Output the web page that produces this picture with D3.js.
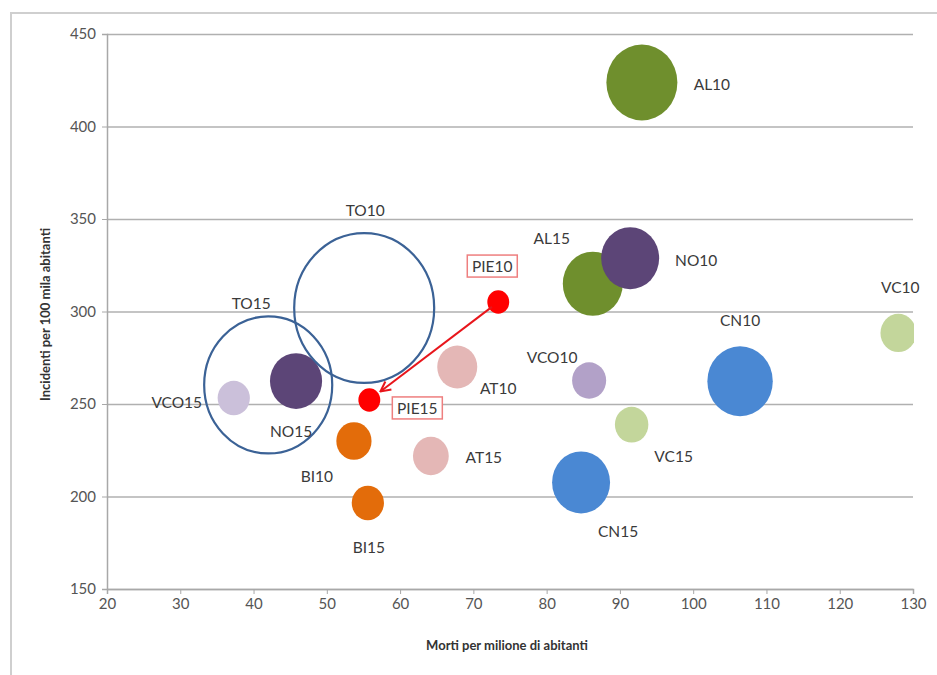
<!DOCTYPE html>
<html>
<head>
<meta charset="utf-8">
<script src="https://cdn.jsdelivr.net/npm/d3@7"></script>
<style>
    body { margin: 0; background: #fff; }
    svg { display: block; font-family: Lato, "Open Sans", sans-serif; }
</style>
</head>
<body>
<script>
// bubble names (province + year)
var names = ["AL10", "AL15", "NO10", "NO15", "TO10", "TO15", "VCO10", "VCO15", "PIE10", "PIE15",
    "AT10", "AT15", "BI10", "BI15", "VC10", "VC15", "CN10", "CN15"];
// x: morti per milione di abitanti
var deaths = [93.0, 86.3, 91.4, 45.8, 55.1, 42.0, 85.8, 37.3, 73.4, 55.8,
    67.8, 64.2, 53.7, 55.6, 128.0, 91.6, 106.4, 84.7];
// y: incidenti per 100 mila abitanti
var incidents = [423.8, 315.0, 328.8, 262.4, 301.9, 260.3, 262.7, 253.2, 305.1, 252.2,
    270.0, 221.9, 230.0, 196.5, 288.4, 238.8, 262.3, 207.6];
// bubble size
var sizes = [126, 90, 84, 68, 490, 410, 29, 26, 12, 12,
    40, 32, 31, 26, 32, 28, 107, 84];

var xTicks = [20, 30, 40, 50, 60, 70, 80, 90, 100, 110, 120, 130];
var yTicks = [150, 200, 250, 300, 350, 400, 450];

// styling per bubble, kept apart from the data
var fills = {
    AL10: "#6f8f2d", AL15: "#6f8f2d", NO10: "#5c4577", NO15: "#5c4577",
    TO10: "none", TO15: "none", VCO10: "#b2a1c8", VCO15: "#cbc0da",
    PIE10: "#ff0000", PIE15: "#ff0000", AT10: "#e4b7b6", AT15: "#e4b7b6",
    BI10: "#e36c0a", BI15: "#e36c0a", VC10: "#c3d69b", VC15: "#c3d69b",
    CN10: "#4a88d3", CN15: "#4a88d3"
};
// label offsets from bubble centre
var labelOffset = {
    AL10: [70, 2], AL15: [-41, -46], NO10: [66, 2], NO15: [-5, 50],
    TO10: [1, -98], TO15: [-17, -82], VCO10: [-37, -24], VCO15: [-57, 4],
    PIE10: [-6, -36], PIE15: [48, 8], AT10: [41, 21], AT15: [53, 1],
    BI10: [-37, 35], BI15: [1, 44], VC10: [2, -46], VC15: [42, 31],
    CN10: [0, -61], CN15: [37, 49]
};

var W = 937, H = 675;
var margin = {top: 34, right: 24, bottom: 86, left: 107};
var width = W - margin.left - margin.right;
var height = H - margin.top - margin.bottom;

var svg = d3.select("body").append("svg")
    .attr("width", W)
    .attr("height", H);

// chart area frame (runs past the picture on right and bottom)
svg.append("rect")
    .attr("x", 11).attr("y", 13)
    .attr("width", 1000).attr("height", 1000)
    .attr("fill", "none")
    .attr("stroke", "#cfcfcf")
    .attr("stroke-width", 2);

var g = svg.append("g")
    .attr("transform", "translate(" + margin.left + "," + margin.top + ")");

var x = d3.scaleLinear().domain([20, 130]).range([0, width]);
var y = d3.scaleLinear().domain([150, 450]).range([height, 0]);
var r = d3.scaleSqrt().domain([0, 500]).range([0, Math.sqrt(5000)]);

// gridlines
g.append("g")
    .attr("class", "grid")
    .call(d3.axisLeft(y).tickValues(yTicks).tickSize(-width).tickFormat(""))
    .call(function (s) {
        s.select(".domain").remove();
        s.selectAll("line").attr("stroke", "#b0b0b0").attr("stroke-width", 1.5);
    });

// y axis
g.append("g")
    .call(d3.axisLeft(y).tickValues(yTicks).tickSize(5).tickPadding(6))
    .call(function (s) {
        s.select(".domain").attr("stroke", "#a8a8a8").attr("stroke-width", 1.5);
        s.selectAll("line").attr("stroke", "#a8a8a8");
        s.selectAll("text").attr("fill", "#555").style("font-size", "15px")
            .style("font-family", "Lato, sans-serif");
    });

// x axis
g.append("g")
    .attr("transform", "translate(0," + height + ")")
    .call(d3.axisBottom(x).tickValues(xTicks).tickSize(5).tickPadding(4))
    .call(function (s) {
        s.select(".domain").attr("stroke", "#a8a8a8").attr("stroke-width", 1.5);
        s.selectAll("line").attr("stroke", "#a8a8a8");
        s.selectAll("text").attr("fill", "#555").style("font-size", "15px")
            .style("font-family", "Lato, sans-serif");
    });

// axis titles
g.append("text")
    .attr("x", width / 2 - 3)
    .attr("y", height + 61)
    .attr("text-anchor", "middle")
    .style("font-size", "13px")
    .style("font-weight", "bold")
    .attr("fill", "#333")
    .text("Morti per milione di abitanti");

g.append("text")
    .attr("transform", "translate(" + (-57) + "," + (height / 2 + 3) + ") rotate(-90)")
    .attr("text-anchor", "middle")
    .style("font-size", "13px")
    .style("font-weight", "bold")
    .attr("fill", "#333")
    .text("Incidenti per 100 mila abitanti");

// clip bubbles to the plot area
g.append("clipPath").attr("id", "plot")
    .append("rect").attr("width", width + 1).attr("height", height);

var data = names.map(function (n, i) {
    return {name: n, x: deaths[i], y: incidents[i], size: sizes[i]};
});
var byName = {};
data.forEach(function (d) { byName[d.name] = d; });

// arrow PIE10 -> PIE15
svg.append("defs").append("marker")
    .attr("id", "head")
    .attr("viewBox", "0 0 12 12")
    .attr("refX", 11).attr("refY", 6)
    .attr("markerWidth", 12).attr("markerHeight", 12)
    .attr("markerUnits", "userSpaceOnUse")
    .attr("orient", "auto")
    .append("path")
    .attr("d", "M1,1 L11,6 L1,11")
    .attr("fill", "none")
    .attr("stroke", "#e8151b")
    .attr("stroke-width", 2);

var p0 = byName.PIE10, p1 = byName.PIE15;
var ax0 = x(p0.x), ay0 = y(p0.y), ax1 = x(p1.x), ay1 = y(p1.y);
var len = Math.sqrt((ax1 - ax0) * (ax1 - ax0) + (ay1 - ay0) * (ay1 - ay0));
var back = r(p1.size) + 3;

var bubbles = g.append("g").attr("clip-path", "url(#plot)");

bubbles.selectAll(".bubble")
    .data(data)
    .enter().append("ellipse")
    .attr("class", "bubble")
    .attr("cx", function (d) { return x(d.x); })
    .attr("cy", function (d) { return y(d.y); })
    .attr("rx", function (d) { return r(d.size); })
    .attr("ry", function (d) { return r(d.size) * 1.07; })
    .attr("fill", function (d) { return fills[d.name]; })
    .attr("stroke", function (d) { return fills[d.name] == "none" ? "#3b6296" : "none"; })
    .attr("stroke-width", 2.2);

g.append("line")
    .attr("x1", ax0 - (ax0 - ax1) * 8 / len)
    .attr("y1", ay0 - (ay0 - ay1) * 8 / len)
    .attr("x2", ax1 + (ax0 - ax1) * back / len)
    .attr("y2", ay1 + (ay0 - ay1) * back / len)
    .attr("stroke", "#e8151b")
    .attr("stroke-width", 2)
    .attr("marker-end", "url(#head)");

// boxes behind the PIE labels
g.selectAll(".lblbox")
    .data(data.filter(function (d) { return d.name.indexOf("PIE") == 0; }))
    .enter().append("rect")
    .attr("class", "lblbox")
    .attr("x", function (d) { return x(d.x) + labelOffset[d.name][0] - 25; })
    .attr("y", function (d) { return y(d.y) + labelOffset[d.name][1] - 11; })
    .attr("width", 50)
    .attr("height", 22)
    .attr("fill", "#fff")
    .attr("stroke", "#ee7f7f")
    .attr("stroke-width", 1.5);

// data labels
g.selectAll(".label")
    .data(data)
    .enter().append("text")
    .attr("class", "label")
    .attr("x", function (d) { return x(d.x) + labelOffset[d.name][0]; })
    .attr("y", function (d) { return y(d.y) + labelOffset[d.name][1]; })
    .attr("text-anchor", "middle")
    .attr("dominant-baseline", "central")
    .attr("fill", "#3a3a3a")
    .style("font-size", "15.5px")
    .text(function (d) { return d.name; });
</script>
</body>
</html>
